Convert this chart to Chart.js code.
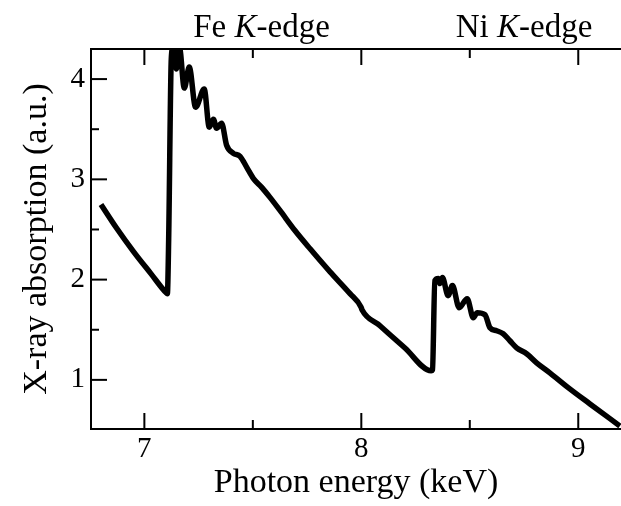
<!DOCTYPE html>
<html>
<head>
<meta charset="utf-8">
<script src="https://cdn.jsdelivr.net/npm/chart.js@4/dist/chart.umd.min.js"></script>
<style>
  html, body { margin: 0; padding: 0; background: #fff; }
  #wrap { width: 621px; height: 506px; }
</style>
</head>
<body>
<div id="wrap"><canvas id="xas"></canvas></div>
<script>
// photon energy (keV) and absorption (a.u.)
const energyKeV = [
    6.800, 6.870, 6.950, 7.030, 7.100, 7.106, 7.112, 7.124, 7.132, 7.148,
    7.162, 7.184, 7.207, 7.236, 7.276, 7.299, 7.318, 7.333, 7.356, 7.379,
    7.410, 7.441, 7.472, 7.502, 7.541, 7.579, 7.625, 7.694, 7.763, 7.855,
    7.948, 7.999, 8.003, 8.086, 8.200, 8.322, 8.328, 8.339, 8.355, 8.362,
    8.374, 8.400, 8.420, 8.451, 8.488, 8.516, 8.534, 8.570, 8.593, 8.624,
    8.654, 8.685, 8.716, 8.762, 8.808, 8.869, 8.961, 9.054, 9.192
];
const absorption = [
    2.75, 2.52, 2.28, 2.06, 1.87, 1.86, 2.40, 4.20, 4.31, 4.10,
    4.31, 3.91, 4.12, 3.72, 3.90, 3.52, 3.60, 3.51, 3.56, 3.34,
    3.26, 3.23, 3.12, 3.01, 2.92, 2.82, 2.69, 2.49, 2.31, 2.08,
    1.86, 1.725, 1.70, 1.54, 1.32, 1.09, 1.10, 1.99, 2.01, 1.96,
    2.02, 1.84, 1.94, 1.72, 1.81, 1.62, 1.67, 1.65, 1.52, 1.49,
    1.46, 1.39, 1.32, 1.26, 1.17, 1.07, 0.91, 0.76, 0.54
];
const xTickValues = [7, 8, 9];
const yTickValues = [1, 2, 3, 4];
const edgeLabels = [
    { element: 'Fe', energy: 7.54 },
    { element: 'Ni', energy: 8.75 }
];

const serif = "'Liberation Serif', 'Times New Roman', serif";

// ticks pointing into the plot, long on whole numbers
const inwardTicks = {
    id: 'inwardTicks',
    afterDatasetsDraw(chart) {
        const { ctx, chartArea, scales } = chart;
        ctx.save();
        ctx.strokeStyle = '#000';
        ctx.lineWidth = 2;
        scales.x.ticks.forEach(t => {
            const px = scales.x.getPixelForValue(t.value);
            const len = xTickValues.includes(t.value) ? 16 : 9;
            ctx.beginPath();
            ctx.moveTo(px, chartArea.bottom);
            ctx.lineTo(px, chartArea.bottom - len);
            ctx.moveTo(px, chartArea.top);
            ctx.lineTo(px, chartArea.top + len);
            ctx.stroke();
        });
        scales.y.ticks.forEach(t => {
            const py = scales.y.getPixelForValue(t.value);
            const len = yTickValues.includes(t.value) ? 16 : 8;
            ctx.beginPath();
            ctx.moveTo(chartArea.left, py);
            ctx.lineTo(chartArea.left + len, py);
            ctx.stroke();
        });

        // edge labels above the frame
        ctx.fillStyle = '#000';
        ctx.textBaseline = 'alphabetic';
        const upright = '33px ' + serif;
        const italic = 'italic 33px ' + serif;
        edgeLabels.forEach(lab => {
            const parts = [[lab.element + ' ', upright], ['K', italic], ['-edge', upright]];
            let total = 0;
            parts.forEach(p => { ctx.font = p[1]; total += ctx.measureText(p[0]).width; });
            let x = scales.x.getPixelForValue(lab.energy) - total / 2;
            parts.forEach(p => {
                ctx.font = p[1];
                ctx.textAlign = 'left';
                ctx.fillText(p[0], x, 37);
                x += ctx.measureText(p[0]).width;
            });
        });
        ctx.restore();
    }
};

const points = energyKeV.map((e, i) => ({ x: e, y: absorption[i] }));

new Chart(document.getElementById('xas'), {
    type: 'line',
    data: {
        datasets: [{
            data: points,
            borderColor: '#000',
            borderWidth: 5.5,
            pointRadius: 0,
            cubicInterpolationMode: 'monotone',
            clip: 0
        }]
    },
    options: {
        responsive: true,
        maintainAspectRatio: false,
        animation: false,
        layout: { padding: 0 },
        plugins: {
            legend: { display: false },
            tooltip: { enabled: false }
        },
        scales: {
            x: {
                type: 'linear',
                position: 'bottom',
                min: 6.754,
                max: 9.197,
                afterFit: s => { s.height = 77; },
                grid: { drawOnChartArea: false, drawTicks: false },
                border: { color: '#000', width: 2 },
                ticks: {
                    stepSize: 0.5,
                    includeBounds: false,
                    autoSkip: false,
                    maxRotation: 0,
                    padding: 3,
                    color: '#000',
                    font: { family: serif, size: 29 },
                    callback: v => (xTickValues.includes(v) ? String(v) : '')
                },
                title: {
                    display: true,
                    text: 'Photon energy (keV)',
                    color: '#000',
                    font: { family: serif, size: 34 },
                    padding: { bottom: 3 }
                }
            },
            xTop: {
                type: 'linear',
                position: 'top',
                min: 6.754,
                max: 9.197,
                afterFit: s => { s.height = 49; },
                grid: { drawOnChartArea: false, drawTicks: false },
                border: { color: '#000', width: 2 },
                ticks: { display: false }
            },
            y: {
                type: 'linear',
                min: 0.51,
                max: 4.30,
                afterFit: s => { s.width = 91; },
                grid: { drawOnChartArea: false, drawTicks: false },
                border: { color: '#000', width: 2 },
                ticks: {
                    stepSize: 0.5,
                    includeBounds: false,
                    autoSkip: false,
                    padding: 6,
                    color: '#000',
                    font: { family: serif, size: 29 },
                    callback: v => (yTickValues.includes(v) ? String(v) : '')
                },
                title: {
                    display: true,
                    text: 'X-ray absorption (a.u.)',
                    color: '#000',
                    font: { family: serif, size: 34 },
                    padding: { top: 17 }
                }
            }
        }
    },
    plugins: [inwardTicks]
});
</script>
</body>
</html>
